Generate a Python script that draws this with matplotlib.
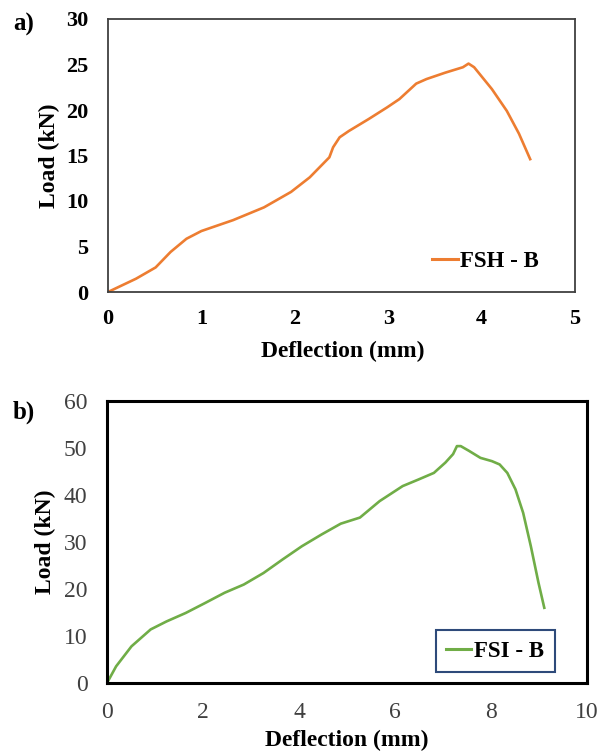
import matplotlib
matplotlib.use("Agg")
import matplotlib.pyplot as plt
from matplotlib.lines import Line2D

# ---- data ----
defl_a = [0.0, 0.30, 0.51, 0.67, 0.84, 1.0, 1.34, 1.67, 1.96, 2.16, 2.37, 2.41, 2.48, 2.58,
          2.79, 2.99, 3.12, 3.30, 3.41, 3.61, 3.80, 3.86, 3.92, 4.11, 4.27, 4.40, 4.52]
load_a = [0.0, 1.46, 2.7, 4.4, 5.85, 6.7, 7.9, 9.3, 11.0, 12.6, 14.8, 15.9, 17.0, 17.7,
          19.0, 20.3, 21.2, 22.9, 23.4, 24.1, 24.7, 25.1, 24.7, 22.3, 19.9, 17.4, 14.6]

defl_b = [0.0, 0.19, 0.51, 0.91, 1.24, 1.64, 2.04, 2.45, 2.85, 3.26, 3.66, 4.06, 4.47, 4.87,
          5.27, 5.68, 6.16, 6.49, 6.81, 7.05, 7.21, 7.29, 7.37, 7.54, 7.78, 8.02, 8.18, 8.34,
          8.51, 8.67, 8.83, 8.99, 9.11]
load_b = [0.0, 3.55, 7.8, 11.4, 13.1, 14.9, 17.0, 19.2, 20.95, 23.4, 26.3, 29.1, 31.6, 33.9,
          35.2, 38.7, 41.9, 43.3, 44.7, 46.9, 48.7, 50.4, 50.4, 49.4, 47.9, 47.2, 46.5, 44.7,
          41.2, 36.2, 29.1, 21.3, 16.0]

xticks_a = [0, 1, 2, 3, 4, 5]
yticks_a = [0, 5, 10, 15, 20, 25, 30]
xticks_b = [0, 2, 4, 6, 8, 10]
yticks_b = [0, 10, 20, 30, 40, 50, 60]
label_a = "FSH - B"
label_b = "FSI - B"

plt.rcParams['font.family'] = ['Liberation Serif', 'DejaVu Serif']

fig = plt.figure(figsize=(6.09, 7.54), dpi=100)

W, H = 609, 754
def rect(l, t, r, b):
    return [l / W, 1 - b / H, (r - l) / W, (b - t) / H]

# ---- panel a ----
ax1 = fig.add_axes(rect(108, 19, 575, 292))
ax1.plot(defl_a, load_a, color='#ED7D31', lw=1.9, solid_joinstyle='round')
ax1.set_xlim(0, 5)
ax1.set_ylim(0, 30)
ax1.set_xticks(xticks_a)
ax1.set_yticks(yticks_a)
ax1.tick_params(length=0, labelsize=16, colors='black')
ax1.tick_params(axis='x', pad=12)
ax1.tick_params(axis='y', pad=14)
for t in ax1.get_xticklabels() + ax1.get_yticklabels():
    t.set_fontweight('bold')
for s in ax1.spines.values():
    s.set_linewidth(1.3)
    s.set_color('#404040')
ax1.set_xlabel('Deflection (mm)', fontsize=17, fontweight='bold', va='center')
ax1.xaxis.set_label_coords(0.503, -0.216)
ax1.set_ylabel('Load (kN)', fontsize=17, fontweight='bold', va='center')
ax1.yaxis.set_label_coords(-0.126, 0.5)
ax1.legend([Line2D([], [], color='#ED7D31', lw=2.2)], [label_a],
           loc='center left', bbox_to_anchor=(0.694, 0.110), frameon=False,
           borderpad=0, borderaxespad=0,
           handlelength=1.13, handletextpad=0.1,
           prop={'family': 'Liberation Serif', 'weight': 'bold', 'size': 16.5})
fig.text(13 / W, 1 - 24 / H, 'a)', fontsize=18, fontweight='bold', va='center', ha='left')

# ---- panel b ----
ax2 = fig.add_axes(rect(107, 401, 587, 683))
ax2.plot(defl_b, load_b, color='#70AD47', lw=1.9, solid_joinstyle='round')
ax2.set_xlim(0, 10)
ax2.set_ylim(0, 60)
ax2.set_xticks(xticks_b)
ax2.set_yticks(yticks_b)
ax2.tick_params(length=0, labelsize=17, colors='#404040')
ax2.tick_params(axis='x', pad=14)
ax2.tick_params(axis='y', pad=14)
for s in ax2.spines.values():
    s.set_linewidth(2.2)
    s.set_color('black')
ax2.set_xlabel('Deflection (mm)', fontsize=17, fontweight='bold', va='center')
ax2.xaxis.set_label_coords(0.5, -0.202)
ax2.set_ylabel('Load (kN)', fontsize=17, fontweight='bold', va='center')
ax2.yaxis.set_label_coords(-0.128, 0.5)
leg2 = ax2.legend([Line2D([], [], color='#70AD47', lw=2.2)], [label_b],
                  loc='center', bbox_to_anchor=(0.809, 0.113), frameon=True,
                  fancybox=False, edgecolor='#2E4A7A', framealpha=1,
                  borderaxespad=0, borderpad=0.45,
                  handlelength=1.1, handletextpad=0.13,
                  prop={'family': 'Liberation Serif', 'weight': 'bold', 'size': 16.5})
leg2.get_frame().set_linewidth(1.5)
fig.text(13 / W, 1 - 412 / H, 'b)', fontsize=18, fontweight='bold', va='center', ha='left')

fig.savefig('out.png', dpi=100)
